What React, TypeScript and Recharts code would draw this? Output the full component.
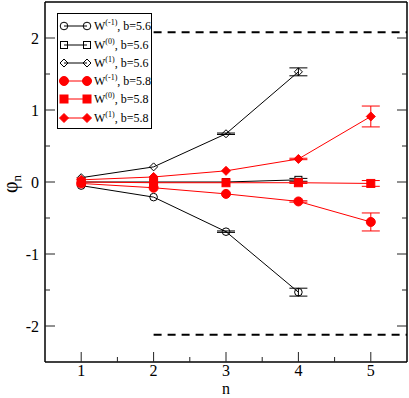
import React from "react";
import { LineChart, Line, XAxis, YAxis, ErrorBar, ReferenceLine, Legend } from "recharts";

// n values
const nBlack = [1, 2, 3, 4];
const nRed = [1, 2, 3, 4, 5];

// b = 5.6 (black)
const wm1_56 = [-0.05, -0.21, -0.69, -1.53];
const wm1_56Err = [0, 0, 0.01, 0.055];
const w0_56 = [0.0, 0.0, 0.0, 0.03];
const w0_56Err = [0, 0, 0, 0.02];
const w1_56 = [0.06, 0.21, 0.67, 1.53];
const w1_56Err = [0, 0, 0.01, 0.055];

// b = 5.8 (red)
const wm1_58 = [-0.02, -0.08, -0.165, -0.27, -0.555];
const wm1_58Err = [0, 0, 0, 0.01, 0.125];
const w0_58 = [0.0, -0.01, -0.01, -0.01, -0.02];
const w0_58Err = [0, 0, 0, 0.01, 0.04];
const w1_58 = [0.03, 0.07, 0.155, 0.32, 0.91];
const w1_58Err = [0, 0, 0, 0.01, 0.145];

// bounds (dashed)
const upperBound = 2.08;
const lowerBound = -2.12;
const boundFrom = 2;
const boundTo = 5.5;

const xTicks = [1, 1.5, 2, 2.5, 3, 3.5, 4, 4.5, 5];
const yTicks = [-2, -1.5, -1, -0.5, 0, 0.5, 1, 1.5, 2];

const serif = '"Liberation Serif", "Times New Roman", serif';
const RED = "#ff0000";

const toRows = (xs: number[], ys: number[], es: number[]) =>
  xs.map((x, i) => ({ x, y: ys[i], e: es[i] }));

type Shape = "circle" | "square" | "diamond";

function Marker({ cx, cy, shape, color, filled }: { cx: number; cy: number; shape: Shape; color: string; filled: boolean }) {
  const fill = filled ? color : "none";
  if (shape === "circle") {
    const r = filled ? 4.5 : 3.8;
    return <circle cx={cx} cy={cy} r={r} fill={fill} stroke={color} strokeWidth={1} />;
  }
  if (shape === "square") {
    const s = filled ? 4 : 3.5;
    return <rect x={cx - s} y={cy - s} width={s * 2} height={s * 2} fill={fill} stroke={color} strokeWidth={1} />;
  }
  const d = filled ? 4.5 : 4;
  return (
    <polygon
      points={`${cx},${cy - d} ${cx + d},${cy} ${cx},${cy + d} ${cx - d},${cy}`}
      fill={fill}
      stroke={color}
      strokeWidth={1}
    />
  );
}

const series = [
  { name: "(-1)", b: "5.6", rows: toRows(nBlack, wm1_56, wm1_56Err), shape: "circle" as Shape, color: "#000", filled: false },
  { name: "(0)", b: "5.6", rows: toRows(nBlack, w0_56, w0_56Err), shape: "square" as Shape, color: "#000", filled: false },
  { name: "(1)", b: "5.6", rows: toRows(nBlack, w1_56, w1_56Err), shape: "diamond" as Shape, color: "#000", filled: false },
  { name: "(-1)", b: "5.8", rows: toRows(nRed, wm1_58, wm1_58Err), shape: "circle" as Shape, color: RED, filled: true },
  { name: "(0)", b: "5.8", rows: toRows(nRed, w0_58, w0_58Err), shape: "square" as Shape, color: RED, filled: true },
  { name: "(1)", b: "5.8", rows: toRows(nRed, w1_58, w1_58Err), shape: "diamond" as Shape, color: RED, filled: true },
];

const isMajor = (v: number) => Number.isInteger(v);

function BottomTick({ x, y, payload }: any) {
  const major = isMajor(payload.value);
  return (
    <g>
      <line x1={x} x2={x} y1={y} y2={y - (major ? 10 : 5)} stroke="#222" />
      {major && (
        <text x={x} y={y + 14} textAnchor="middle" fontFamily={serif} fontSize={16} fill="#000">
          {payload.value}
        </text>
      )}
    </g>
  );
}

function TopTick({ x, y, payload }: any) {
  const major = isMajor(payload.value);
  return <line x1={x} x2={x} y1={y} y2={y + (major ? 10 : 5)} stroke="#222" />;
}

function LeftTick({ x, y, payload }: any) {
  const major = isMajor(payload.value);
  return (
    <g>
      <line x1={x} x2={x + (major ? 10 : 5)} y1={y} y2={y} stroke="#222" />
      {major && (
        <text x={x - 6} y={y} dy="0.35em" textAnchor="end" fontFamily={serif} fontSize={16} fill="#000">
          {payload.value}
        </text>
      )}
    </g>
  );
}

function RightTick({ x, y, payload }: any) {
  const major = isMajor(payload.value);
  return <line x1={x} x2={x - (major ? 10 : 5)} y1={y} y2={y} stroke="#222" />;
}

function LegendBox() {
  const rowY = [12, 31, 49, 67, 85, 104];
  return (
    <div style={{ width: 95, height: 116, border: "1px solid #000", background: "#fff", boxSizing: "border-box" }}>
      <svg width={93} height={114} style={{ display: "block" }}>
        {series.map((s, i) => (
          <g key={i}>
            <line x1={6} x2={29} y1={rowY[i]} y2={rowY[i]} stroke={s.color} strokeWidth={1} />
            <Marker cx={6} cy={rowY[i]} shape={s.shape} color={s.color} filled={s.filled} />
            <Marker cx={29} cy={rowY[i]} shape={s.shape} color={s.color} filled={s.filled} />
            <text x={36} y={rowY[i] + 4} fontFamily={serif} fontSize={12} fill="#000">
              W<tspan fontSize={8} dy={-5}>{s.name}</tspan>
              <tspan dy={5}>, b={s.b}</tspan>
            </text>
          </g>
        ))}
      </svg>
    </div>
  );
}

const axisLine = { stroke: "#000", strokeWidth: 1.5 };

export default function App() {
  return (
    <div style={{ position: "absolute", left: 0, top: 0, width: 409, height: 398, background: "#fff" }}>
      <LineChart width={409} height={398} margin={{ top: 0, right: 0, bottom: 0, left: 0 }}>
        <XAxis
          xAxisId={0}
          dataKey="x"
          type="number"
          domain={[0.5, 5.5]}
          ticks={xTicks}
          interval={0}
          height={36}
          tickSize={0}
          tickMargin={0}
          tickLine={false}
          tick={<BottomTick />}
          axisLine={axisLine}
          allowDataOverflow
          label={{
            content: () => (
              <text x={226} y={394} textAnchor="middle" fontFamily={serif} fontSize={16} fill="#000">
                n
              </text>
            ),
          }}
        />
        <XAxis
          xAxisId="top"
          orientation="top"
          type="number"
          domain={[0.5, 5.5]}
          ticks={xTicks}
          interval={0}
          height={2}
          tickSize={0}
          tickMargin={0}
          tickLine={false}
          tick={<TopTick />}
          axisLine={axisLine}
          allowDataOverflow
        />
        <YAxis
          yAxisId={0}
          type="number"
          domain={[-2.5, 2.5]}
          ticks={yTicks}
          interval={0}
          width={45}
          tickSize={0}
          tickMargin={0}
          tickLine={false}
          tick={<LeftTick />}
          axisLine={axisLine}
          allowDataOverflow
          label={{
            content: () => (
              <text
                x={17}
                y={184}
                transform="rotate(-90, 17, 184)"
                textAnchor="middle"
                fontFamily={serif}
                fontSize={20}
                fill="#000"
              >
                φ<tspan fontSize={13} dy={4}>n</tspan>
              </text>
            ),
          }}
        />
        <YAxis
          yAxisId="right"
          orientation="right"
          type="number"
          domain={[-2.5, 2.5]}
          ticks={yTicks}
          interval={0}
          width={2}
          tickSize={0}
          tickMargin={0}
          tickLine={false}
          tick={<RightTick />}
          axisLine={axisLine}
          allowDataOverflow
        />
        <ReferenceLine
          segment={[
            { x: boundFrom, y: upperBound },
            { x: boundTo, y: upperBound },
          ]}
          stroke="#000"
          strokeWidth={2}
          strokeDasharray="8 6"
        />
        <ReferenceLine
          segment={[
            { x: boundFrom, y: lowerBound },
            { x: boundTo, y: lowerBound },
          ]}
          stroke="#000"
          strokeWidth={2}
          strokeDasharray="8 6"
        />
        {series.map((s, i) => (
          <Line
            key={i}
            data={s.rows}
            dataKey="y"
            stroke={s.color}
            strokeWidth={1}
            isAnimationActive={false}
            dot={(p: any) => (
              <Marker key={`d${i}-${p.index}`} cx={p.cx} cy={p.cy} shape={s.shape} color={s.color} filled={s.filled} />
            )}
            activeDot={false}
          >
            <ErrorBar dataKey="e" width={9} stroke={s.color} strokeWidth={1} direction="y" />
          </Line>
        ))}
        <Legend
          layout="horizontal"
          verticalAlign="middle"
          align="center"
          wrapperStyle={{ position: "absolute", left: 57, top: 13, width: 95, height: 116 }}
          content={() => <LegendBox />}
        />
      </LineChart>
    </div>
  );
}
